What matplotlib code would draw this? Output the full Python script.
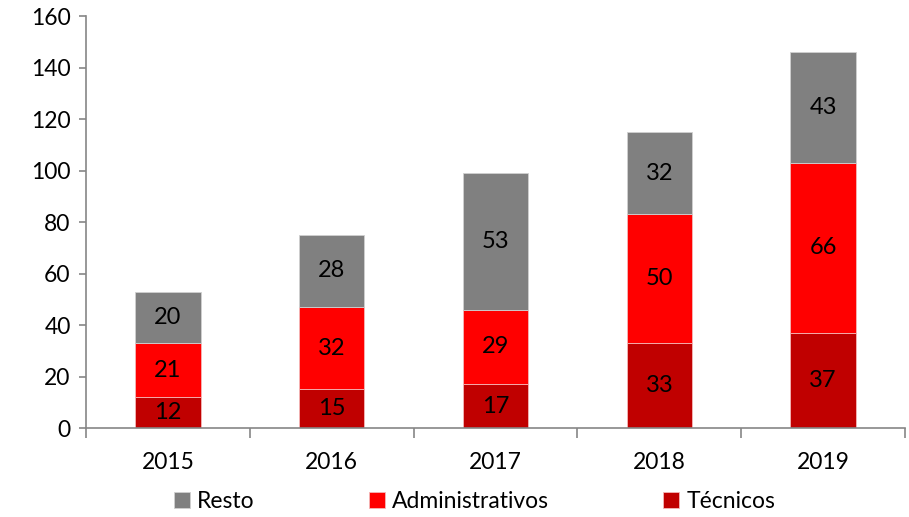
import matplotlib
matplotlib.use("Agg")
import matplotlib.pyplot as plt
import numpy as np

years = ["2015", "2016", "2017", "2018", "2019"]
tecnicos = [12, 15, 17, 33, 37]
administrativos = [21, 32, 29, 50, 66]
resto = [20, 28, 53, 32, 43]

plt.rcParams["font.family"] = ["Lato", "DejaVu Sans"]

fig = plt.figure(figsize=(9.09, 5.17), dpi=100)
ax = fig.add_axes([0.0946, 0.172, 0.901, 0.797])

x = np.arange(len(years))
w = 0.4
tec = np.array(tecnicos)
adm = np.array(administrativos)
res = np.array(resto)

b1 = ax.bar(x, tec, w, color="#C00000", edgecolor="#F4B8B8", linewidth=0.6, label="Técnicos")
b2 = ax.bar(x, adm, w, bottom=tec, color="#FF0000", edgecolor="#F4B8B8", linewidth=0.6,
            label="Administrativos")
b3 = ax.bar(x, res, w, bottom=tec + adm, color="#808080", edgecolor="#D0D0D0", linewidth=0.6,
            label="Resto")

for bars, vals, bottoms in [(b1, tec, 0 * tec), (b2, adm, tec), (b3, res, tec + adm)]:
    for xi, v, b in zip(x, vals, bottoms):
        ax.text(xi, b + v / 2, str(v), ha="center", va="center", fontsize=17, color="black")

ax.set_xlim(-0.5, len(years) - 0.5)
ax.set_ylim(0, 160)
ax.set_yticks(range(0, 161, 20))
ax.set_xticks(x)
ax.set_xticklabels(years)
ax.set_xticks(np.arange(-0.5, len(years)), minor=True)
ax.tick_params(axis="x", which="major", length=0, pad=17, labelsize=16.5)
ax.tick_params(axis="x", which="minor", length=7, width=1.2, color="#868686")
ax.tick_params(axis="y", length=5, width=1.2, color="#868686", labelsize=16.5, pad=6)

for s in ["top", "right"]:
    ax.spines[s].set_visible(False)
for s in ["left", "bottom"]:
    ax.spines[s].set_color("#868686")
    ax.spines[s].set_linewidth(1.2)

handles = [b3, b2, b1]
fig.legend(handles, [h.get_label() for h in handles], loc="lower center",
           bbox_to_anchor=(0.522, -0.03), ncol=3, frameon=False, fontsize=16.5,
           handlelength=0.7, handleheight=0.7, handletextpad=0.3, columnspacing=5.0)

fig.savefig("out.png", dpi=100)
